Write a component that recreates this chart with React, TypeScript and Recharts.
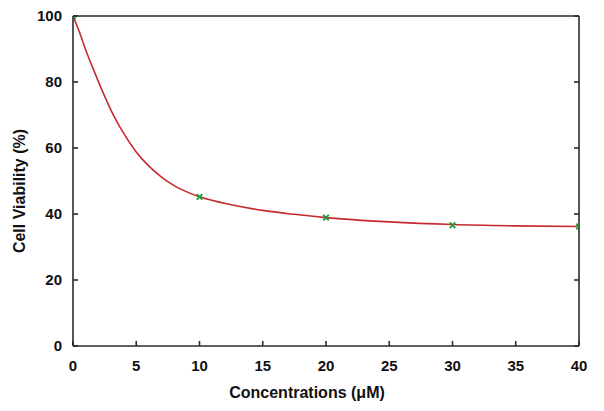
import { ComposedChart, Line, Scatter, XAxis, YAxis, Label } from 'recharts';

// fitted curve
const fitX = [0, 0.5, 1, 1.5, 2, 2.5, 3, 3.5, 4, 5, 6, 7, 8, 9, 10, 12.5, 15, 17.5, 20, 25, 30, 35, 40];
const fitY = [100, 95.2, 89.8, 84.9, 80.2, 75.7, 71.5, 67.8, 64.5, 58.8, 54.5, 51.2, 48.6, 46.7, 45.2, 42.8, 41.1, 39.9, 38.9, 37.6, 36.8, 36.4, 36.2];

// measured points (green crosses)
const concX = [0, 10, 20, 30, 40];
const viability = [100, 45.2, 38.9, 36.6, 36.2];

const xTicks = [0, 5, 10, 15, 20, 25, 30, 35, 40];
const yTicks = [0, 20, 40, 60, 80, 100];

const fitData = fitX.map((x, i) => ({ x, y: fitY[i] }));
const pointData = concX.map((x, i) => ({ x, y: viability[i] }));

const font = 'Arial, "Liberation Sans", sans-serif';
const frame = '#2b2b2b';
const labelStyle = { fontFamily: font, fontWeight: 'bold', fontSize: 15, fill: '#111' };
const TICK = 5;
const X_MARGIN = 14;
const Y_MARGIN = 11;

// ticks point into the plot, so the tick line is drawn next to the label
const BottomTick = (props: any) => {
  const { x, y, payload } = props;
  const axisY = y - X_MARGIN;
  return (
    <g>
      <line x1={x} y1={axisY} x2={x} y2={axisY - TICK} stroke={frame} strokeWidth={1.6} />
      <text x={x} y={y} dy="0.71em" textAnchor="middle" style={labelStyle}>{payload.value}</text>
    </g>
  );
};

const LeftTick = (props: any) => {
  const { x, y, payload } = props;
  const axisX = x + Y_MARGIN;
  return (
    <g>
      <line x1={axisX} y1={y} x2={axisX + TICK} y2={y} stroke={frame} strokeWidth={1.6} />
      <text x={x} y={y} dy="0.355em" textAnchor="end" style={labelStyle}>{payload.value}</text>
    </g>
  );
};

const TopTick = (props: any) => {
  const { x, y } = props;
  return <line x1={x} y1={y} x2={x} y2={y + TICK} stroke={frame} strokeWidth={1.6} />;
};

const RightTick = (props: any) => {
  const { x, y } = props;
  return <line x1={x} y1={y} x2={x - TICK} y2={y} stroke={frame} strokeWidth={1.6} />;
};

const Cross = (props: any) => {
  const { cx, cy } = props;
  const s = 2.8;
  return (
    <g stroke="#1e9e3a" strokeWidth={1.8}>
      <line x1={cx - s} y1={cy - s} x2={cx + s} y2={cy + s} />
      <line x1={cx - s} y1={cy + s} x2={cx + s} y2={cy - s} />
    </g>
  );
};

const axisLine = { stroke: frame, strokeWidth: 1.6 };

export default function App() {
  return (
    <div style={{ position: 'absolute', left: 0, top: 0, background: '#fff' }}>
      <ComposedChart width={604} height={411} margin={{ top: 0, right: 0, bottom: 0, left: 0 }}>
        <XAxis
          xAxisId="b"
          dataKey="x"
          type="number"
          domain={[0, 40]}
          ticks={xTicks}
          interval={0}
          allowDataOverflow
          height={65}
          tickSize={0}
          tickMargin={X_MARGIN}
          tickLine={false}
          tick={BottomTick}
          axisLine={axisLine}
        >
          <Label
            value="Concentrations (μM)"
            position="insideBottom"
            offset={13}
            dx={-19}
            style={{ fontFamily: font, fontWeight: 'bold', fontSize: 16, fill: '#111' }}
          />
        </XAxis>
        <XAxis
          xAxisId="t"
          orientation="top"
          type="number"
          domain={[0, 40]}
          ticks={xTicks}
          interval={0}
          allowDataOverflow
          height={16}
          tickSize={0}
          tickMargin={0}
          tickLine={false}
          tick={TopTick}
          axisLine={axisLine}
        />
        <YAxis
          yAxisId="l"
          type="number"
          domain={[0, 100]}
          ticks={yTicks}
          interval={0}
          allowDataOverflow
          width={73}
          tickSize={0}
          tickMargin={Y_MARGIN}
          tickLine={false}
          tick={LeftTick}
          axisLine={axisLine}
        >
          <Label
            content={() => (
              <text
                x={25}
                y={191}
                transform="rotate(-90, 25, 191)"
                textAnchor="middle"
                style={{ fontFamily: font, fontWeight: 'bold', fontSize: 16, fill: '#111' }}
              >
                Cell Viability (%)
              </text>
            )}
          />
        </YAxis>
        <YAxis
          yAxisId="r"
          orientation="right"
          type="number"
          domain={[0, 100]}
          ticks={yTicks}
          interval={0}
          allowDataOverflow
          width={25}
          tickSize={0}
          tickMargin={0}
          tickLine={false}
          tick={RightTick}
          axisLine={axisLine}
        />
        <Line
          xAxisId="b"
          yAxisId="l"
          data={fitData}
          dataKey="y"
          type="monotone"
          stroke="#c62a2f"
          strokeWidth={1.6}
          dot={false}
          activeDot={false}
          isAnimationActive={false}
        />
        <Scatter
          xAxisId="b"
          yAxisId="l"
          data={pointData}
          dataKey="y"
          shape={Cross}
          isAnimationActive={false}
        />
      </ComposedChart>
    </div>
  );
}
